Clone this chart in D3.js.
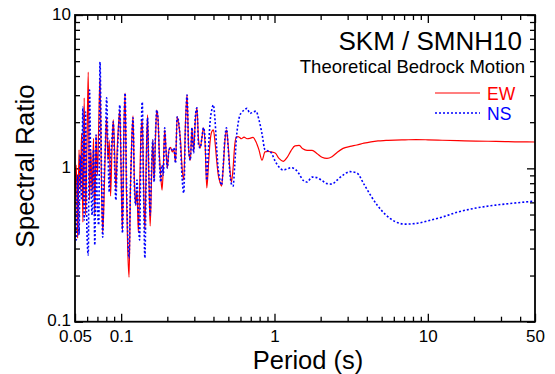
<!DOCTYPE html>
<html>
<head>
<meta charset="utf-8">
<script src="https://cdn.jsdelivr.net/npm/d3@7"></script>
<style>
  html, body { margin: 0; padding: 0; background: #fff; }
  svg { display: block; font-family: "Liberation Sans", Arial, Helvetica, sans-serif; }
</style>
</head>
<body>
<svg id="chart" width="555" height="374"></svg>
<script>
// Period (s) shared by both components
const period = [
  0.0500,0.0510,0.0520,0.0531,0.0541,0.0552,0.0563,0.0574,0.0586,0.0598,
  0.0610,0.0622,0.0634,0.0647,0.0660,0.0673,0.0686,0.0700,0.0714,0.0728,
  0.0743,0.0758,0.0773,0.0788,0.0804,0.0820,0.0837,0.0853,0.0871,0.0888,
  0.0906,0.0924,0.0942,0.0961,0.0980,0.1000,0.1020,0.1040,0.1061,0.1082,
  0.1104,0.1126,0.1149,0.1172,0.1195,0.1219,0.1243,0.1268,0.1294,0.1319,
  0.1346,0.1373,0.1400,0.1428,0.1457,0.1486,0.1516,0.1546,0.1577,0.1608,
  0.1641,0.1673,0.1707,0.1741,0.1776,0.1811,0.1848,0.1885,0.1922,0.1961,
  0.2000,
  0.2050,0.2101,0.2154,0.2208,0.2263,0.2319,0.2377,0.2437,0.2498,0.2560,
  0.2624,0.2690,0.2757,0.2826,0.2897,0.2969,0.3043,0.3119,0.3197,0.3277,
  0.3359,0.3443,0.3529,0.3618,0.3708,0.3801,0.3896,0.3993,0.4093,0.4195,
  0.4300,0.4408,0.4518,0.4631,0.4747,0.4865,0.4987,0.5112,0.5239,0.5370,
  0.5505,0.5642,0.5783,0.5928,0.6076,
  0.633,0.662,0.692,0.724,0.757,0.792,0.829,0.867,0.907,0.949,
  1.01,1.07,1.14,1.21,1.28,1.36,1.45,1.53,1.63,1.76,
  1.89,2.04,2.20,2.37,2.56,2.80,3.11,3.45,3.83,4.26,
  4.73,5.34,6.11,7.10,8.37,10.0,12.4,15.7,20.6,27.8,
  37.0,50.0
];

// Spectral ratio, EW component
const ewRatio = [
  0.621,1.05,0.351,1.32,0.722,1.70,0.446,2.88,0.496,1.32,
  4.25,0.621,1.32,0.670,1.57,0.496,1.65,0.904,1.92,3.88,
  0.904,0.384,0.621,1.32,2.14,1.13,1.53,0.660,1.32,2.07,
  1.32,0.722,1.32,1.92,2.40,0.904,0.384,1.65,3.10,0.722,
  0.293,0.195,0.722,1.53,2.20,0.839,0.576,0.722,0.384,0.722,
  1.65,2.07,0.778,0.396,1.13,2.23,0.904,0.421,0.839,1.53,
  0.839,1.53,2.40,2.07,1.22,0.904,0.722,1.05,1.78,1.32,
  1.005,
  1.32,1.37,1.28,1.32,1.10,2.17,1.92,1.53,1.005,0.839,
  1.92,3.01,1.32,1.13,1.84,1.28,2.01,2.48,1.53,1.36,
  1.57,1.84,1.42,0.745,1.05,1.49,1.73,1.78,1.49,1.13,
  0.904,0.814,0.766,1.005,1.49,1.78,1.42,1.005,0.814,1.005,
  1.42,1.60,1.61,1.59,1.56,
  1.60,1.56,1.57,1.59,1.49,1.32,1.13,1.28,1.29,1.28,
  1.26,1.16,1.11,1.18,1.30,1.40,1.41,1.34,1.31,1.31,
  1.25,1.18,1.16,1.19,1.27,1.35,1.39,1.42,1.46,1.49,
  1.51,1.52,1.53,1.535,1.54,1.535,1.525,1.515,1.505,1.50,
  1.49,1.485
];

// Spectral ratio, NS component
const nsRatio = [
  0.496,0.341,0.904,0.367,1.22,0.621,2.51,0.460,2.33,0.396,
  0.272,3.24,0.904,0.496,1.32,0.316,1.65,0.535,0.427,4.94,
  1.13,0.356,0.839,1.36,2.88,1.32,0.701,1.13,1.53,2.01,
  1.05,0.621,1.13,1.78,2.59,0.975,0.378,1.53,3.10,0.904,
  0.367,0.260,0.722,1.42,2.14,0.778,0.576,0.839,0.496,0.341,
  1.42,2.71,0.722,0.260,0.904,2.14,0.904,0.496,0.975,1.53,
  0.814,1.65,2.40,2.07,1.13,0.814,1.05,0.904,1.84,1.32,
  1.005,
  1.32,1.36,1.32,1.36,1.08,2.17,1.98,1.42,0.864,0.690,
  1.78,3.01,1.32,1.13,1.84,1.26,2.14,2.48,1.42,1.36,
  1.57,1.84,1.53,0.839,1.32,2.01,2.40,2.59,2.07,1.36,
  0.975,0.839,0.778,1.05,1.57,1.84,1.36,0.946,0.789,0.766,
  1.05,1.57,1.95,2.20,2.30,
  2.40,2.46,2.28,2.33,2.36,2.07,1.68,1.32,1.30,1.27,
  1.115,1.02,0.975,0.99,1.01,0.99,0.918,0.839,0.814,0.877,
  0.870,0.833,0.795,0.789,0.839,0.904,0.952,0.932,0.789,0.660,
  0.567,0.496,0.450,0.433,0.437,0.455,0.481,0.519,0.551,0.576,
  0.594,0.612
];

const xTickValues = [0.05, 0.1, 1, 10, 50];
const xTickLabels = ["0.05", "0.1", "1", "10", "50"];
const yTickValues = [0.1, 1, 10];
const yTickLabels = ["0.1", "1", "10"];

const seriesNames = ["EW", "NS"];
const seriesColors = ["#ff0000", "#0000ff"];

const titleText = "SKM / SMNH10";
const subtitleText = "Theoretical Bedrock Motion";
const xLabel = "Period (s)";
const yLabel = "Spectral Ratio";

// ---- layout ----
const plot = { left: 75, right: 535, top: 15, bottom: 321.7 };
const svg = d3.select("#chart");

const x = d3.scaleLog().domain([0.05, 50]).range([plot.left, plot.right]);
const y = d3.scaleLog().domain([0.1, 10]).range([plot.bottom, plot.top]);

// minor tick positions: 2..9 in each decade inside the domain
function minorTicks(lo, hi) {
  const out = [];
  for (let e = -3; e <= 3; e++) {
    for (let k = 2; k <= 9; k++) {
      const v = k * Math.pow(10, e);
      if (v > lo * 1.0001 && v < hi * 0.9999) out.push(v);
    }
  }
  return out;
}
const xMinor = minorTicks(0.05, 50);
const yMinor = minorTicks(0.1, 10);

const fontFam = '"Liberation Sans", Arial, Helvetica, sans-serif';

function styleAxis(g, size) {
  g.attr("font-family", fontFam).attr("font-size", size);
  g.select(".domain").remove();
  g.selectAll(".tick line").attr("stroke", "#000").attr("stroke-width", 1.3);
  g.selectAll(".tick text").attr("fill", "#000");
}

// bottom axis: labelled majors + minors, ticks pointing inward
svg.append("g").attr("transform", `translate(0,${plot.bottom})`)
  .call(d3.axisBottom(x).tickValues(xTickValues)
    .tickFormat((d, i) => xTickLabels[i]).tickSize(-8).tickSizeOuter(0).tickPadding(8))
  .call(g => styleAxis(g, 17));
svg.append("g").attr("transform", `translate(0,${plot.bottom})`)
  .call(d3.axisBottom(x).tickValues(xMinor).tickFormat("").tickSize(-5).tickSizeOuter(0))
  .call(g => styleAxis(g, 17));

// top axis
svg.append("g").attr("transform", `translate(0,${plot.top})`)
  .call(d3.axisTop(x).tickValues(xTickValues).tickFormat("").tickSize(-8).tickSizeOuter(0))
  .call(g => styleAxis(g, 17));
svg.append("g").attr("transform", `translate(0,${plot.top})`)
  .call(d3.axisTop(x).tickValues(xMinor).tickFormat("").tickSize(-5).tickSizeOuter(0))
  .call(g => styleAxis(g, 17));

// left axis
svg.append("g").attr("transform", `translate(${plot.left},0)`)
  .call(d3.axisLeft(y).tickValues(yTickValues)
    .tickFormat((d, i) => yTickLabels[i]).tickSize(-8).tickSizeOuter(0).tickPadding(4))
  .call(g => styleAxis(g, 17))
  .call(g => g.selectAll(".tick text").attr("dy", "0.24em"));
svg.append("g").attr("transform", `translate(${plot.left},0)`)
  .call(d3.axisLeft(y).tickValues(yMinor).tickFormat("").tickSize(-5).tickSizeOuter(0))
  .call(g => styleAxis(g, 17));

// right axis
svg.append("g").attr("transform", `translate(${plot.right},0)`)
  .call(d3.axisRight(y).tickValues(yTickValues).tickFormat("").tickSize(-8).tickSizeOuter(0))
  .call(g => styleAxis(g, 17));
svg.append("g").attr("transform", `translate(${plot.right},0)`)
  .call(d3.axisRight(y).tickValues(yMinor).tickFormat("").tickSize(-5).tickSizeOuter(0))
  .call(g => styleAxis(g, 17));

// clip region for the curves
svg.append("defs").append("clipPath").attr("id", "plot-clip")
  .append("rect").attr("x", plot.left).attr("y", plot.top)
  .attr("width", plot.right - plot.left).attr("height", plot.bottom - plot.top);

const line = d3.line()
  .x(d => x(d[0]))
  .y(d => y(d[1]))
  .curve(d3.curveMonotoneX);

const curves = svg.append("g").attr("clip-path", "url(#plot-clip)");

curves.append("path")
  .datum(period.map((p, i) => [p, ewRatio[i]]))
  .attr("fill", "none")
  .attr("stroke", seriesColors[0])
  .attr("stroke-width", 1.2)
  .attr("stroke-linejoin", "round")
  .attr("d", line);

curves.append("path")
  .datum(period.map((p, i) => [p, nsRatio[i]]))
  .attr("fill", "none")
  .attr("stroke", seriesColors[1])
  .attr("stroke-width", 1.6)
  .attr("stroke-dasharray", "2,2")
  .attr("d", line);

// frame
svg.append("rect")
  .attr("x", plot.left).attr("y", plot.top)
  .attr("width", plot.right - plot.left).attr("height", plot.bottom - plot.top)
  .attr("fill", "none").attr("stroke", "#000").attr("stroke-width", 1.8);

// titles
svg.append("text")
  .attr("x", 522).attr("y", 50)
  .attr("text-anchor", "end")
  .attr("font-size", 26)
  .attr("fill", "#000")
  .text(titleText);

svg.append("text")
  .attr("x", 525).attr("y", 73)
  .attr("text-anchor", "end")
  .attr("font-size", 18.5)
  .attr("fill", "#000")
  .text(subtitleText);

// legend
const legend = svg.append("g");
seriesNames.forEach((name, i) => {
  const ly = 93 + i * 20;
  legend.append("line")
    .attr("x1", 435).attr("x2", 480).attr("y1", ly).attr("y2", ly)
    .attr("stroke", seriesColors[i])
    .attr("stroke-width", i === 0 ? 1.2 : 1.6)
    .attr("stroke-dasharray", i === 0 ? null : "2,2");
  legend.append("text")
    .attr("x", 487).attr("y", ly + 7)
    .attr("font-size", 17.5)
    .attr("fill", seriesColors[i])
    .text(name);
});

// axis titles
svg.append("text")
  .attr("x", 308).attr("y", 369)
  .attr("text-anchor", "middle")
  .attr("font-size", 25.5)
  .attr("fill", "#000")
  .text(xLabel);

svg.append("text")
  .attr("transform", `translate(34,166) rotate(-90)`)
  .attr("text-anchor", "middle")
  .attr("font-size", 26)
  .attr("fill", "#000")
  .text(yLabel);
</script>
</body>
</html>
